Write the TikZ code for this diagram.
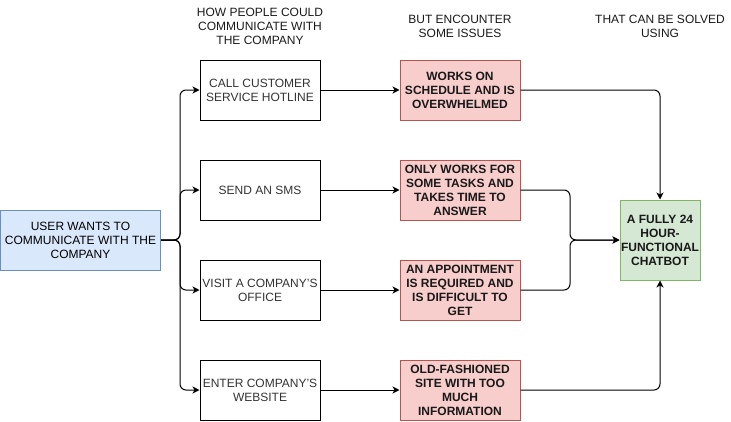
\documentclass[tikz,border=0pt]{standalone}
\usepackage{fontspec}
\setmainfont{Liberation Sans}
\usetikzlibrary{arrows.meta}
\definecolor{bluefill}{HTML}{DAE8FC}
\definecolor{blueline}{HTML}{6C8EBF}
\definecolor{redfill}{HTML}{F8CECC}
\definecolor{redline}{HTML}{B85450}
\definecolor{greenfill}{HTML}{D5E8D4}
\definecolor{greenline}{HTML}{82B366}
\definecolor{greytext}{HTML}{333333}
\tikzset{
  base/.style={draw, line width=1pt, inner sep=0pt, align=center},
  userbox/.style={base, fill=bluefill, draw=blueline, minimum width=160pt, minimum height=60pt, text=black},
  waybox/.style={base, fill=white, draw=black, minimum width=120pt, minimum height=60pt, text=greytext},
  issuebox/.style={base, fill=redfill, draw=redline, minimum width=120pt, minimum height=60pt, text=black!90, font=\bfseries},
  solvebox/.style={base, fill=greenfill, draw=greenline, minimum width=80pt, minimum height=80pt, text=black!90, font=\bfseries},
  header/.style={align=center, inner sep=0pt, text=black!90},
  conn/.style={line width=1pt, rounded corners=6pt, -{Stealth[length=7pt,width=7pt,inset=2pt]}}
}
\begin{document}
\fontsize{12}{14}\selectfont
\begin{tikzpicture}[x=1pt,y=-1pt]
\useasboundingbox (0,0) rectangle (731,421);
\node[header] (h1) at (260,26) {HOW PEOPLE COULD\\COMMUNICATE WITH\\THE COMPANY};
\node[header] (h2) at (460,26) {BUT ENCOUNTER\\SOME ISSUES};
\node[header] (h3) at (660,26) {THAT CAN BE SOLVED\\USING};

\node[userbox] (user) at (80.5,240) {USER WANTS TO\\COMMUNICATE WITH THE\\COMPANY};

\node[waybox] (w1) at (260,90) {CALL CUSTOMER\\SERVICE HOTLINE};
\node[waybox] (w2) at (260,190) {SEND AN SMS};
\node[waybox] (w3) at (260,290) {VISIT A COMPANY'S\\OFFICE};
\node[waybox] (w4) at (260,390) {ENTER COMPANY'S\\WEBSITE};

\node[issuebox] (r1) at (460,90) {WORKS ON\\SCHEDULE AND IS\\OVERWHELMED};
\node[issuebox] (r2) at (460,190) {ONLY WORKS FOR\\SOME TASKS AND\\TAKES TIME TO\\ANSWER};
\node[issuebox] (r3) at (460,290) {AN APPOINTMENT\\IS REQUIRED AND\\IS DIFFICULT TO\\GET};
\node[issuebox] (r4) at (460,390) {OLD-FASHIONED\\SITE WITH TOO\\MUCH\\INFORMATION};

\node[solvebox] (g) at (660,240) {A FULLY 24\\HOUR-\\FUNCTIONAL\\CHATBOT};

\coordinate (split) at (180,240);
\coordinate (merge) at (570,240);

\foreach \w in {w1,w2,w3,w4}{
  \draw[conn] (user.east) -- (split) |- (\w.west);
}
\draw[conn] (w1.east) -- (r1.west);
\draw[conn] (w2.east) -- (r2.west);
\draw[conn] (w3.east) -- (r3.west);
\draw[conn] (w4.east) -- (r4.west);

\draw[conn] (r1.east) -| (g.north);
\draw[conn] (r4.east) -| (g.south);
\draw[conn] (r2.east) -| (merge) -- (g.west);
\draw[conn] (r3.east) -| (merge) -- (g.west);
\end{tikzpicture}
\end{document}
